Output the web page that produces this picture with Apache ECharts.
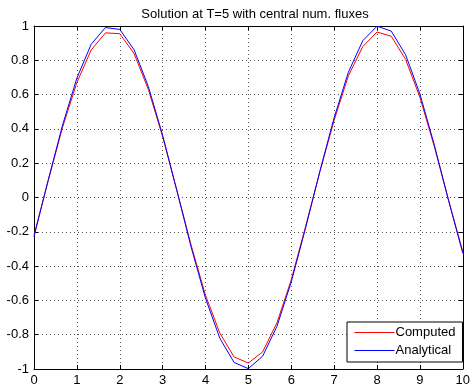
<!DOCTYPE html>
<html>
<head>
<meta charset="utf-8">
<script src="https://cdn.jsdelivr.net/npm/echarts@6/dist/echarts.min.js"></script>
<style>
  html, body { margin: 0; padding: 0; background: #fff; }
  #main { width: 473px; height: 389px; }
</style>
</head>
<body>
<div id="main"></div>
<script>
// node positions and values
var xNodes = [0, 0.333, 0.667, 1, 1.333, 1.667, 2, 2.333, 2.667, 3, 3.333, 3.667, 4, 4.333, 4.667, 5,
  5.333, 5.667, 6, 6.333, 6.667, 7, 7.333, 7.667, 8, 8.333, 8.667, 9, 9.333, 9.667, 10];
var computed = [-0.22, 0.10, 0.41, 0.67, 0.86, 0.96, 0.955, 0.84, 0.63, 0.355, 0.04, -0.28, -0.57, -0.79, -0.93, -0.965,
  -0.90, -0.73, -0.48, -0.17, 0.15, 0.45, 0.71, 0.88, 0.965, 0.94, 0.805, 0.585, 0.30, -0.015, -0.315];
var analytical = [-0.228, 0.103, 0.423, 0.696, 0.893, 0.991, 0.98, 0.862, 0.647, 0.363, 0.039, -0.291, -0.588, -0.82, -0.962, -0.998,
  -0.925, -0.751, -0.492, -0.179, 0.153, 0.465, 0.731, 0.914, 0.999, 0.97, 0.832, 0.604, 0.31, -0.015, -0.325];
var seriesNames = ['Computed', 'Analytical'];

var chart = echarts.init(document.getElementById('main'));

function pairs(ys) {
  var out = [];
  for (var i = 0; i < xNodes.length; i++) out.push([xNodes[i], ys[i]]);
  return out;
}

var font = 'Liberation Sans, Arial, sans-serif';
var gridLine = { show: true, lineStyle: { color: '#555', type: [1, 3], width: 1 } };

var option = {
  backgroundColor: '#fff',
  animation: false,
  title: {
    text: 'Solution at T=5 with central num. fluxes',
    left: 250,
    textAlign: 'center',
    top: 3,
    textStyle: { fontSize: 13, fontWeight: 'normal', color: '#000', fontFamily: font }
  },
  legend: {
    data: seriesNames,
    orient: 'vertical',
    left: 347,
    top: 322,
    backgroundColor: '#fff',
    borderColor: '#000',
    borderWidth: 1,
    borderRadius: 0,
    padding: [4, 7, 5, 7],
    itemGap: 5,
    itemWidth: 40,
    itemHeight: 14,
    itemStyle: { opacity: 0 },
    lineStyle: { width: 1 },
    textStyle: { fontSize: 13, color: '#000', fontFamily: font, padding: [0, 0, 0, -4] }
  },
  grid: { left: 34, right: 6, top: 26, bottom: 20 },
  xAxis: [{
    type: 'value', min: 0, max: 10, interval: 1,
    axisLine: { onZero: false, lineStyle: { color: '#000' } },
    axisTick: { inside: true, length: 4, lineStyle: { color: '#000' } },
    axisLabel: { color: '#000', fontSize: 13, fontFamily: font, margin: 5 },
    splitLine: gridLine
  }, {
    type: 'value', min: 0, max: 10, interval: 1, position: 'top',
    axisLine: { show: true, onZero: false, lineStyle: { color: '#000' } },
    axisTick: { show: true, inside: true, length: 4, lineStyle: { color: '#000' } },
    axisLabel: { show: false },
    splitLine: { show: false }
  }],
  yAxis: [{
    type: 'value', min: -1, max: 1, interval: 0.2,
    axisLine: { show: true, onZero: false, lineStyle: { color: '#000' } },
    axisTick: { show: true, inside: true, length: 4, lineStyle: { color: '#000' } },
    axisLabel: { color: '#000', fontSize: 13, fontFamily: font, margin: 5 },
    splitLine: gridLine
  }, {
    type: 'value', min: -1, max: 1, interval: 0.2, position: 'right',
    axisLine: { show: true, onZero: false, lineStyle: { color: '#000' } },
    axisTick: { show: true, inside: true, length: 4, lineStyle: { color: '#000' } },
    axisLabel: { show: false },
    splitLine: { show: false }
  }],
  series: [{
    name: seriesNames[0],
    type: 'line',
    data: pairs(computed),
    symbol: 'none',
    lineStyle: { color: '#ff0000', width: 1 },
    itemStyle: { color: '#ff0000' },
    z: 3
  }, {
    name: seriesNames[1],
    type: 'line',
    data: pairs(analytical),
    symbol: 'none',
    lineStyle: { color: '#0000ff', width: 1 },
    itemStyle: { color: '#0000ff' },
    z: 4
  }]
};

chart.setOption(option);
</script>
</body>
</html>
